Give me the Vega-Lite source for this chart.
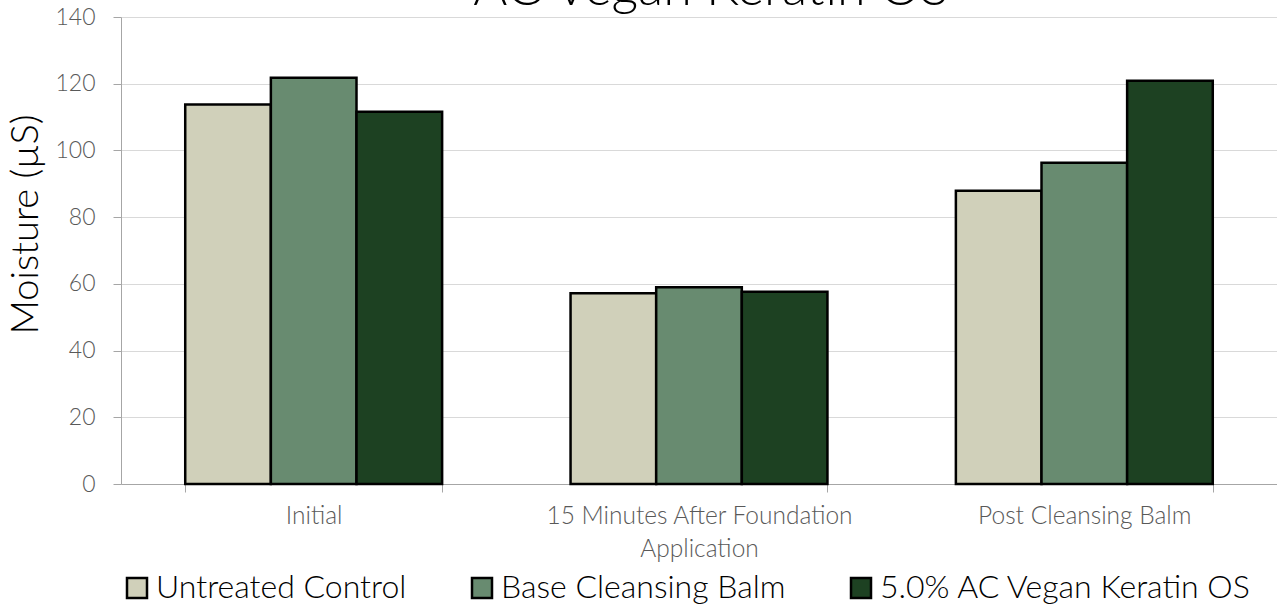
{
  "$schema": "https://vega.github.io/schema/vega-lite/v6.json",
  "autosize": "none",
  "width": 1156,
  "height": 467,
  "padding": {"left": 121, "top": 17, "right": 0, "bottom": 122},
  "background": "white",
  "title": {
    "text": "AC Vegan Keratin OS",
    "frame": "group",
    "anchor": "middle",
    "orient": "top",
    "baseline": "alphabetic",
    "offset": 1.5,
    "dx": 12,
    "dy": 52,
    "font": "Lato",
    "fontWeight": 300,
    "fontSize": 52,
    "color": "#000000"
  },
  "data": {
    "values": [
      {"timepoint": "Initial", "treatment": "Untreated Control", "moisture": 113.8},
      {"timepoint": "Initial", "treatment": "Base Cleansing Balm", "moisture": 121.8},
      {"timepoint": "Initial", "treatment": "5.0% AC Vegan Keratin OS", "moisture": 111.6},
      {"timepoint": "15 Minutes After Foundation Application", "treatment": "Untreated Control", "moisture": 57.2},
      {"timepoint": "15 Minutes After Foundation Application", "treatment": "Base Cleansing Balm", "moisture": 59.0},
      {"timepoint": "15 Minutes After Foundation Application", "treatment": "5.0% AC Vegan Keratin OS", "moisture": 57.6},
      {"timepoint": "Post Cleansing Balm", "treatment": "Untreated Control", "moisture": 87.9},
      {"timepoint": "Post Cleansing Balm", "treatment": "Base Cleansing Balm", "moisture": 96.3},
      {"timepoint": "Post Cleansing Balm", "treatment": "5.0% AC Vegan Keratin OS", "moisture": 120.9}
    ]
  },
  "mark": {"type": "bar", "stroke": "#000000", "strokeWidth": 2.5},
  "encoding": {
    "x": {
      "field": "timepoint",
      "type": "nominal",
      "sort": ["Initial", "15 Minutes After Foundation Application", "Post Cleansing Balm"],
      "scale": {"paddingInner": 0.3333, "paddingOuter": 0.1667},
      "axis": {
        "title": null,
        "labelAngle": 0,
        "labelFont": "Lato",
        "labelFontWeight": 300,
        "labelFontSize": 24.5,
        "labelColor": "#595959",
        "labelPadding": 12,
        "labelLineHeight": 33,
        "labelLimit": 0,
        "labelExpr": "datum.label == '15 Minutes After Foundation Application' ? ['15 Minutes After Foundation', 'Application'] : datum.label",
        "tickBand": "extent",
        "tickSize": 8,
        "tickColor": "#A6A6A6",
        "domainColor": "#A6A6A6",
        "domainWidth": 1,
        "grid": false
      }
    },
    "xOffset": {
      "field": "treatment",
      "type": "nominal",
      "sort": ["Untreated Control", "Base Cleansing Balm", "5.0% AC Vegan Keratin OS"],
      "scale": {"paddingInner": 0, "paddingOuter": 0}
    },
    "y": {
      "field": "moisture",
      "type": "quantitative",
      "scale": {"domain": [0, 140], "nice": false},
      "axis": {
        "title": "Moisture (µS)",
        "titleFont": "Lato",
        "titleFontWeight": 300,
        "titleFontSize": 38,
        "titleColor": "#000000",
        "titlePadding": 9,
        "titleY": 207,
        "values": [0, 20, 40, 60, 80, 100, 120, 140],
        "labelFont": "Lato",
        "labelFontWeight": 300,
        "labelFontSize": 23,
        "labelColor": "#595959",
        "labelPadding": 18,
        "tickSize": 8,
        "tickColor": "#A6A6A6",
        "domainColor": "#A6A6A6",
        "gridColor": "#D9D9D9",
        "gridWidth": 1
      }
    },
    "fill": {
      "field": "treatment",
      "type": "nominal",
      "sort": ["Untreated Control", "Base Cleansing Balm", "5.0% AC Vegan Keratin OS"],
      "scale": {
        "domain": ["Untreated Control", "Base Cleansing Balm", "5.0% AC Vegan Keratin OS"],
        "range": ["#D0D0BA", "#688B70", "#1D4122"]
      },
      "legend": {
        "title": null,
        "orient": "bottom",
        "direction": "horizontal",
        "offset": 11,
        "symbolType": "square",
        "symbolSize": 400,
        "symbolStrokeColor": "#000000",
        "symbolStrokeWidth": 2.5,
        "symbolOpacity": 1,
        "labelFont": "Lato",
        "labelFontWeight": 300,
        "labelFontSize": 32,
        "labelColor": "#000000",
        "labelOffset": 3,
        "labelLimit": 0,
        "columnPadding": 59
      }
    }
  },
  "config": {
    "view": {"stroke": null},
    "axis": {"gridColor": "#D9D9D9"}
  }
}
